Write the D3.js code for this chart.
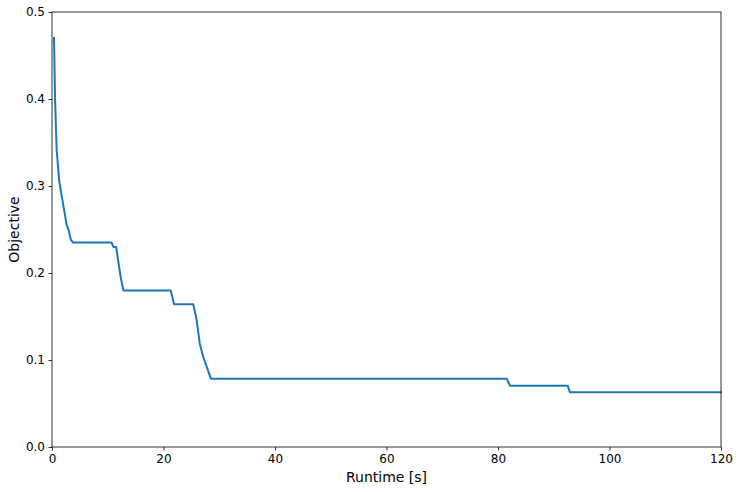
<!DOCTYPE html>
<html><head><meta charset="utf-8">
<script src="https://cdn.jsdelivr.net/npm/d3@7"></script>
<style>body{margin:0;background:#fff}svg{display:block}text{font-family:"DejaVu Sans",sans-serif}</style>
</head><body>
<script>
const runtime = [0.36,0.55,0.84,1.31,2.63,3.0,3.4,3.8,10.7,11.0,11.5,12.3,12.8,21.3,21.9,25.35,25.95,26.5,27.1,28.5,81.56,82.15,92.5,92.9,120];
const objective = [0.47,0.40,0.341,0.305,0.255,0.249,0.238,0.235,0.235,0.230,0.230,0.196,0.180,0.180,0.164,0.164,0.146,0.119,0.104,0.0785,0.0785,0.0705,0.0705,0.063,0.063];
const xTicks = [0,20,40,60,80,100,120];
const yTicks = [0.0,0.1,0.2,0.3,0.4,0.5];

const W=739,H=492,m={l:52,t:12,r:18,b:45};
const svg=d3.select("body").append("svg").attr("width",W).attr("height",H);
const x=d3.scaleLinear().domain([0,120]).range([m.l,W-m.r]);
const y=d3.scaleLinear().domain([0,0.5]).range([H-m.b,m.t]);

const data=runtime.map((r,i)=>({x:r,y:objective[i]}));
svg.append("path").datum(data)
  .attr("fill","none").attr("stroke","#1f77b4").attr("stroke-width",2)
  .attr("stroke-linejoin","round").attr("stroke-linecap","square")
  .attr("d",d3.line().x(d=>x(d.x)).y(d=>y(d.y)));

const gx=svg.append("g").attr("transform",`translate(0,${H-m.b})`)
  .call(d3.axisBottom(x).tickValues(xTicks).tickFormat(d3.format("d")).tickSize(3.5).tickPadding(3.5));
const gy=svg.append("g").attr("transform",`translate(${m.l},0)`)
  .call(d3.axisLeft(y).tickValues(yTicks).tickFormat(d3.format(".1f")).tickSize(3.5).tickPadding(3.5));
[gx,gy].forEach(g=>{g.select(".domain").remove();g.selectAll("text").attr("font-size",12).attr("fill","#000").attr("font-family","DejaVu Sans");g.selectAll("line").attr("stroke","#000").attr("stroke-width",0.8);});

svg.append("rect").attr("x",m.l).attr("y",m.t).attr("width",W-m.l-m.r).attr("height",H-m.t-m.b)
  .attr("fill","none").attr("stroke","#000").attr("stroke-width",0.8);

svg.append("text").attr("x",(m.l+W-m.r)/2).attr("y",482).attr("text-anchor","middle").attr("font-size",14).text("Runtime [s]");
svg.append("text").attr("transform",`translate(19,${(m.t+H-m.b)/2}) rotate(-90)`).attr("text-anchor","middle").attr("font-size",14).text("Objective");
</script>
</body></html>
